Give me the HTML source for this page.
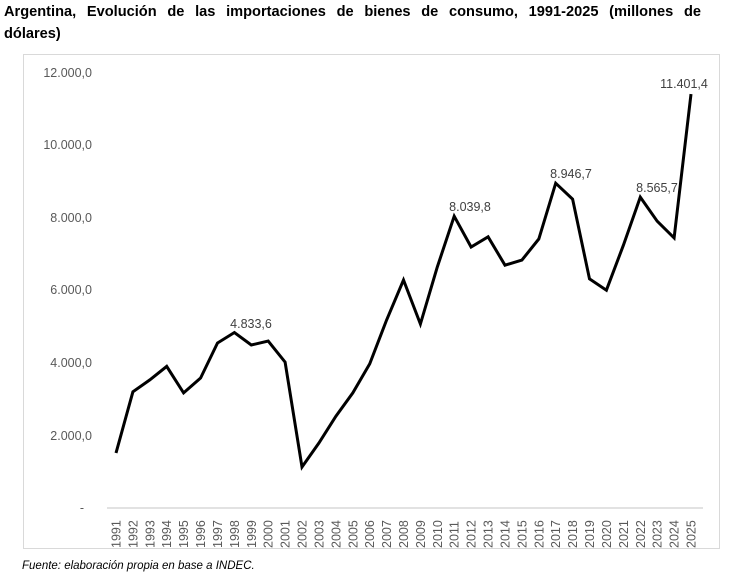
<!DOCTYPE html>
<html><head><meta charset="utf-8"><style>
body{margin:0;background:#fff;width:730px;height:583px;overflow:hidden;font-family:"Liberation Sans",sans-serif}
.t{position:absolute;left:4px;top:1px;font-weight:bold;font-size:14.6px;line-height:22px;color:#000}
.l1{display:block;width:697px;text-align:justify;text-align-last:justify}
.f{position:absolute;left:22px;top:560px;font-style:italic;font-size:11.5px;color:#000}
</style></head><body>
<div class="t"><span class="l1">Argentina, Evolución de las importaciones de bienes de consumo, 1991-2025 (millones de</span>dólares)</div>
<svg width="730" height="583" style="position:absolute;left:0;top:0">
<rect x="23.5" y="54.5" width="696" height="494" fill="none" stroke="#d9d9d9"/>
<line x1="107" y1="508" x2="703" y2="508" stroke="#d9d9d9" stroke-width="1.5"/>
<g font-size="12.5" fill="#595959" text-anchor="end">
<text x="92" y="77">12.000,0</text><text x="92" y="149">10.000,0</text>
<text x="92" y="222">8.000,0</text><text x="92" y="294">6.000,0</text>
<text x="92" y="367">4.000,0</text><text x="92" y="440">2.000,0</text>
<text x="84" y="512">-</text></g>
<g id="yrs" font-size="12.5" fill="#595959"></g>
<polyline id="ln" fill="none" stroke="#000" stroke-width="3" stroke-linejoin="miter"/>
<g font-size="12.5" fill="#404040" text-anchor="middle">
<text x="251" y="328">4.833,6</text><text x="470" y="211">8.039,8</text>
<text x="571" y="178">8.946,7</text><text x="657" y="192">8.565,7</text>
<text x="684" y="88">11.401,4</text></g>
</svg>
<div class="f">Fuente: elaboración propia en base a INDEC.</div>
<script>
var v=[1515,3200,3530,3900,3170,3580,4545,4833.6,4490,4600,4020,1130,1790,2530,3170,3970,5180,6280,5070,6640,8039.8,7190,7470,6690,6830,7410,8946.7,8510,6310,6000,7240,8565.7,7900,7440,11401.4];
var p=[],g=document.getElementById('yrs'),s='';
v.forEach(function(d,i){var x=116+i*575/34;p.push(x.toFixed(1)+','+(508-d*0.0363).toFixed(1));
s+='<text transform="translate('+(x+4.5)+',548) rotate(-90)">'+(1991+i)+'</text>';});
document.getElementById('ln').setAttribute('points',p.join(' '));g.innerHTML=s;
</script>
</body></html>
